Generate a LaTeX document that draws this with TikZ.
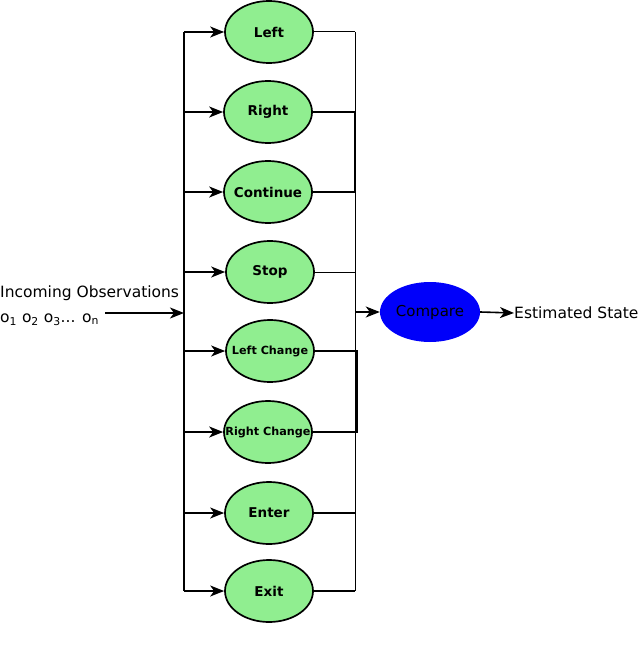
\documentclass[tikz,border=0pt]{standalone}
\usepackage{fontspec}
\setmainfont{DejaVu Sans}
\usetikzlibrary{shapes.geometric,arrows.meta}
\definecolor{stgreen}{RGB}{144,238,144}
\definecolor{cmpblue}{RGB}{0,0,250}
\newcommand{\zw}[1]{\makebox[0pt]{#1}}
\begin{document}
\begin{tikzpicture}[x=1pt,y=-1pt,
  state/.style={ellipse,draw=black,line width=1.7pt,fill=stgreen,minimum width=88pt,minimum height=62pt,inner sep=0pt,font=\fontsize{13.5}{14}\selectfont\bfseries},
  small/.style={font=\fontsize{11.2}{12}\selectfont\bfseries},
  feed/.style={line width=1.6pt,-{Stealth[length=14pt,width=11pt,inset=4pt]}},
  wire/.style={line width=1pt},
  lbl/.style={inner sep=0pt,font=\fontsize{15.5}{17}\selectfont}]
\useasboundingbox (0,0) rectangle (640,655);
\node[state] (left) at (269,32) {\zw{Left}};
\node[state] (right) at (268,112) {\zw{Right}};
\node[state] (cont) at (268,192) {\zw{Continue}};
\node[state] (stop) at (270,272) {\zw{Stop}};
\node[state,small] (lch) at (270,351) {\zw{Left Change}};
\node[state,small] (rch) at (268,432) {\zw{Right Change}};
\node[state] (enter) at (269,513) {\zw{Enter}};
\node[state] (exit) at (269,591) {\zw{Exit}};
\node[ellipse,fill=cmpblue,minimum width=100pt,minimum height=60pt,inner sep=0pt,font=\fontsize{15}{16}\selectfont] (cmp) at (430,312) {\zw{Compare}};
\node[lbl,anchor=west] (est) at (514,313) {Estimated State};
\node[lbl,anchor=west] (inc) at (0,293) {Incoming Observations};
\node[lbl,anchor=west] (obs) at (0,320) {o\textsubscript{1} o\textsubscript{2} o\textsubscript{3}... o\textsubscript{n}};
% left bus
\coordinate (lt) at (184,32);
\coordinate (lb) at (184,591);
\coordinate (in) at (105,313);
\coordinate (inb) at (184,313);
\draw[line width=1.6pt] (lt) -- (lb);
\draw[feed] (in) -- (inb);
\foreach \n in {left,right,cont,stop,lch,rch,enter,exit}
  \draw[feed] (lb |- \n.west) -- (\n.west);
% right bus
\coordinate (rt) at (355,32);
\coordinate (rb) at (355,591);
\draw[wire] (rt) -- (rb);
\foreach \n in {left,stop}
  \draw[wire] (\n.east) -- (rt |- \n.east);
\foreach \n in {right,cont,enter,exit}
  \draw[line width=1.6pt] (\n.east) -- (rt |- \n.east);
\coordinate (lc) at (357,351);
\coordinate (rc) at (357,432);
\draw[line width=1.6pt] (lch.east) -- (lc) -- (rc) -- (rch.east);
\draw[line width=1.6pt] (355,112) -- (355,192);
\draw[feed] (rt |- cmp.west) -- (cmp.west);
\draw[feed] (cmp.east) -- (est.west);
\end{tikzpicture}
\end{document}
